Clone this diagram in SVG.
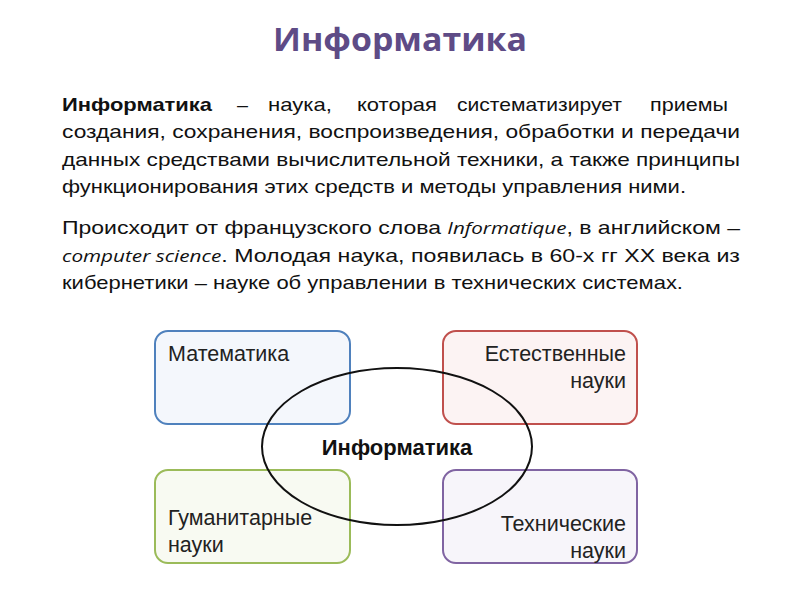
<svg xmlns="http://www.w3.org/2000/svg" width="800" height="600" viewBox="0 0 800 600">
<style>
.title{font-family:"Open Sans","Liberation Sans",sans-serif;font-weight:bold;font-size:32px;fill:#5E4B86}
.p{font-family:"Liberation Sans",Arial,sans-serif;font-size:19px;fill:#111}
.it{font-family:"Open Sans","Liberation Sans",sans-serif;font-style:italic;font-size:17px}
.lbl{font-family:"Liberation Sans",Arial,sans-serif;font-size:21.5px;fill:#222}
.center{font-family:"Liberation Sans",Arial,sans-serif;font-size:22px;font-weight:bold;fill:#111}
.box{stroke-width:2}
</style>
<rect width="800" height="600" fill="#fff"/>
<text class="title" x="400" y="51" text-anchor="middle" textLength="254" lengthAdjust="spacingAndGlyphs">Информатика</text>

<g id="para1" class="p">
<text x="62" y="111" font-weight="bold" textLength="150" lengthAdjust="spacingAndGlyphs">Информатика</text>
<text x="237" y="111" textLength="11" lengthAdjust="spacingAndGlyphs">–</text>
<text x="268" y="111" textLength="64" lengthAdjust="spacingAndGlyphs">наука,</text>
<text x="357" y="111" textLength="80" lengthAdjust="spacingAndGlyphs">которая</text>
<text x="457" y="111" textLength="165" lengthAdjust="spacingAndGlyphs">систематизирует</text>
<text x="650" y="111" textLength="78" lengthAdjust="spacingAndGlyphs">приемы</text>
<text x="62" y="138" textLength="678" lengthAdjust="spacingAndGlyphs">создания, сохранения, воспроизведения, обработки и передачи</text>
<text x="62" y="166" textLength="678" lengthAdjust="spacingAndGlyphs">данных средствами вычислительной техники, а также принципы</text>
<text x="62" y="193" textLength="624" lengthAdjust="spacingAndGlyphs">функционирования этих средств и методы управления ними.</text>
</g>

<g id="para2" class="p">
<text x="62" y="234" textLength="678" lengthAdjust="spacingAndGlyphs">Происходит  от  французского  слова <tspan class="it">Informatique</tspan>,  в  английском  –</text>
<text x="62" y="262" textLength="678" lengthAdjust="spacingAndGlyphs"><tspan class="it">computer science</tspan>. Молодая  наука,  появилась  в  60-х  гг  XX  века  из</text>
<text x="62" y="289" textLength="621" lengthAdjust="spacingAndGlyphs">кибернетики – науке об управлении в технических системах.</text>
</g>

<g id="math">
<rect class="box" x="155" y="331" width="195" height="93" rx="13" fill="#F4F7FC" stroke="#4F81BD"/>
<text class="lbl" x="168" y="361">Математика</text>
</g>
<g id="natural">
<rect class="box" x="443" y="331" width="194" height="93" rx="13" fill="#FCF3F3" stroke="#C0504D"/>
<text class="lbl" x="626" y="361" text-anchor="end">Естественные</text>
<text class="lbl" x="626" y="388" text-anchor="end">науки</text>
</g>
<g id="humanities">
<rect class="box" x="155" y="470" width="195" height="93" rx="13" fill="#F8FAF2" stroke="#9BBB59"/>
<text class="lbl" x="168" y="525">Гуманитарные</text>
<text class="lbl" x="168" y="552">науки</text>
</g>
<g id="technical">
<rect class="box" x="443" y="470" width="194" height="93" rx="13" fill="#F7F5FA" stroke="#8064A2"/>
<text class="lbl" x="626" y="531" text-anchor="end">Технические</text>
<text class="lbl" x="626" y="558" text-anchor="end">науки</text>
</g>
<g id="informatics">
<ellipse cx="397" cy="446.5" rx="135" ry="78.5" fill="none" stroke="#111" stroke-width="2"/>
<text class="center" x="397" y="455" text-anchor="middle">Информатика</text>
</g>
</svg>
